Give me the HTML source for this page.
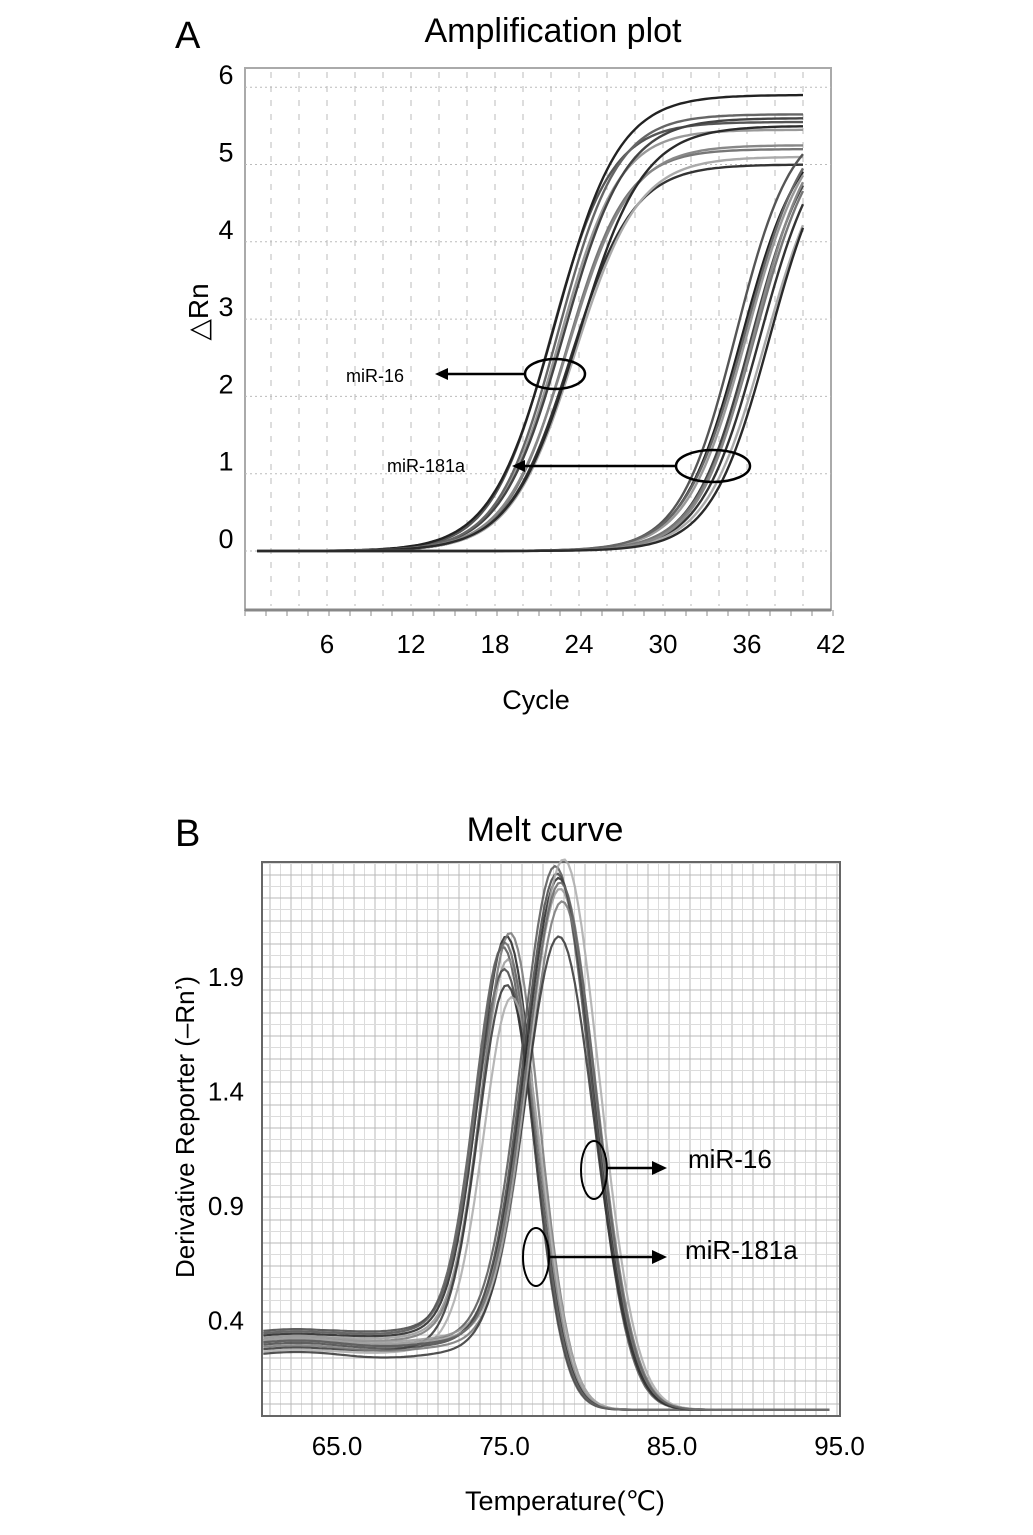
<!DOCTYPE html>
<html><head><meta charset="utf-8"><style>
body{margin:0;background:#fff;}
svg{display:block;font-family:"Liberation Sans",Arial,sans-serif;}
</style></head><body>
<svg id="fig" width="1033" height="1535" viewBox="0 0 1033 1535">
<rect width="1033" height="1535" fill="#fff"/>
<g id="pa"></g>
<g id="pb"></g>
</svg>
<script>
// ---- Panel A data ----
const cycleTicks = [6, 12, 18, 24, 30, 36, 42];
const rnTicks = [0, 1, 2, 3, 4, 5, 6];
// miR-16 curves: midpoint cycle, plateau, steepness
const mir16Mid = [22.0, 22.3, 22.6, 22.9, 23.1, 23.4, 23.7, 22.5, 23.2, 23.9];
const mir16Plateau = [5.55, 5.9, 5.45, 5.6, 5.2, 5.0, 5.1, 5.65, 5.25, 5.5];
const mir16Slope = [0.47, 0.44, 0.47, 0.45, 0.47, 0.45, 0.44, 0.47, 0.45, 0.43];
// miR-181a curves
const mir181Mid = [35.2, 35.6, 36.0, 36.3, 36.6, 36.9, 37.3, 35.9, 36.5, 37.6];
const mir181Plateau = [5.6, 5.5, 5.6, 5.5, 5.6, 5.5, 5.4, 5.7, 5.6, 5.5];
const mir181Slope = [0.5, 0.48, 0.47, 0.49, 0.47, 0.48, 0.47, 0.46, 0.5, 0.48];
const curveShade = ['#555','#222','#999','#444','#777','#333','#aaa','#666','#888','#2a2a2a'];

// ---- Panel B data ----
const tempTicks = [65.0, 75.0, 85.0, 95.0];
const derivTicks = [0.4, 0.9, 1.4, 1.9];
const melt181Tm = [75.1, 75.3, 75.4, 75.2, 75.5, 75.3, 75.6, 75.2];
const melt181Peak = [1.95, 2.0, 1.9, 1.85, 2.02, 1.8, 1.75, 1.97];
const melt181Base = [0.33, 0.32, 0.31, 0.34, 0.3, 0.26, 0.25, 0.33];
const melt16Tm = [78.2, 78.4, 78.5, 78.3, 78.6, 78.4, 78.7, 78.5];
const melt16Peak = [2.35, 2.3, 2.25, 2.32, 2.2, 2.05, 2.38, 2.28];
const melt16Base = [0.3, 0.29, 0.31, 0.28, 0.27, 0.24, 0.3, 0.29];

const NS = 'http://www.w3.org/2000/svg';
function mk(parent, tag, attrs, text){const e=document.createElementNS(NS,tag);for(const k in attrs)e.setAttribute(k,attrs[k]);if(text!==undefined)e.textContent=text;parent.appendChild(e);return e;}

// ---- Panel A ----
(function(){
const g=document.getElementById('pa');
const xA=c=>243+14*c, yA=v=>551-77.3*v;
const L=245,R=831,T=68,B=610;
let t;
t=mk(g,'text',{x:175,y:48,'font-size':38});t.textContent='A';


t=mk(g,'text',{x:553,y:42,'font-size':34,'text-anchor':'middle'},'Amplification plot');


const box=mk(g,'rect',{x:L,y:T,width:R-L,height:B-T,fill:'#fff',stroke:'#aaa','stroke-width':2});


for(let c=2;c<42;c+=2){const l=mk(g,'line',{x1:xA(c),x2:xA(c),y1:T+4,y2:B-4,stroke:'#bbb','stroke-dasharray':'6 8'});

}
for(let v=0;v<=6;v++){const l=mk(g,'line',{x1:L,x2:R,y1:yA(v),y2:yA(v),stroke:'#bbb','stroke-dasharray':'2 3'});

}
mk(g,'line',{x1:L,x2:R,y1:B,y2:B,stroke:'#888','stroke-width':3});
for(let c=0;c<=42;c+=1.5){mk(g,'line',{x1:xA(c)+2,x2:xA(c)+2,y1:B,y2:B+6,stroke:'#888'});}
cycleTicks.forEach(c=>{const tx=mk(g,'text',{x:xA(c),y:653,'font-size':26,'text-anchor':'middle'},String(c));

});
rnTicks.forEach(v=>{const tx=mk(g,'text',{x:226,y:yA(v)-3,'font-size':27,'text-anchor':'middle'},String(v));

});
t=mk(g,'text',{x:536,y:709,'font-size':27,'text-anchor':'middle'},'Cycle');


t=mk(g,'text',{transform:'translate(208,312) rotate(-90)','font-size':28,'text-anchor':'middle'},'\u25B3Rn');


function drawSet(mids,plats,slopes,name){
 mids.forEach((m,i)=>{let d='';for(let c=1;c<=40;c+=0.25){const v=plats[i]/(1+Math.exp(-slopes[i]*(c-m)));d+=(d?'L':'M')+xA(c).toFixed(1)+','+yA(v).toFixed(1);}
 const p=mk(g,'path',{d:d,fill:'none',stroke:curveShade[i%curveShade.length],'stroke-width':2.4});
 
 });
}
drawSet(mir16Mid,mir16Plateau,mir16Slope,'mir16-amplification-curve');
drawSet(mir181Mid,mir181Plateau,mir181Slope,'mir181a-amplification-curve');
mk(g,'ellipse',{cx:555,cy:374,rx:30,ry:15,fill:'none',stroke:'#000','stroke-width':2.5});
mk(g,'line',{x1:525,x2:445,y1:374,y2:374,stroke:'#000','stroke-width':2.5});
mk(g,'polygon',{points:'435,374 448,368 448,380',fill:'#000'});
t=mk(g,'text',{x:346,y:382,'font-size':18},'miR-16');


mk(g,'ellipse',{cx:713,cy:466,rx:37,ry:16,fill:'none',stroke:'#000','stroke-width':2.5});
mk(g,'line',{x1:676,x2:522,y1:466,y2:466,stroke:'#000','stroke-width':2.5});
mk(g,'polygon',{points:'512,466 525,460 525,472',fill:'#000'});
t=mk(g,'text',{x:387,y:472,'font-size':18},'miR-181a');


})();

// ---- Panel B ----
(function(){
const g=document.getElementById('pb');
const xB=T=>337+16.75*(T-65), yB=v=>1412-229*v;
const L=262,R=840,T=862,B=1416;
let t;
t=mk(g,'text',{x:175,y:846,'font-size':38},'B');


t=mk(g,'text',{x:545,y:841,'font-size':34,'text-anchor':'middle'},'Melt curve');


const box=mk(g,'rect',{x:L,y:T,width:R-L,height:B-T,fill:'#fff'});


for(let x=L+8;x<R;x+=10.5){mk(g,'line',{x1:x,x2:x,y1:T,y2:B,stroke:(Math.round((x-L-8)/10.5)%2?'#dcdcdc':'#b8b8b8'),'stroke-width':1});}
for(let y=B-12;y>T;y-=11.5){mk(g,'line',{x1:L,x2:R,y1:y,y2:y,stroke:(Math.round((B-12-y)/11.5)%2?'#dcdcdc':'#b8b8b8'),'stroke-width':1});}
mk(g,'rect',{x:L,y:T,width:R-L,height:B-T,fill:'none',stroke:'#666','stroke-width':2});
function drawMelt(tms,peaks,bases,sig,name,shift){
 tms.forEach((m,i)=>{let d='';for(let Tt=60.6;Tt<=94.5;Tt+=0.2){
  const bump=0.04*Math.sin((Tt-60)*0.6);
  const base=bases[i]*(1+0.012*Math.max(0,Tt-64)*shift)+bump*0.3;
  const v=base/(1+Math.exp((Tt-(m+0.5))*1.5))+(peaks[i]-bases[i]*0.6)*Math.exp(-Math.pow(Tt-m,2)/(2*sig*sig))+0.01;
  d+=(d?'L':'M')+xB(Tt).toFixed(1)+','+yB(v).toFixed(1);}
 const p=mk(g,'path',{d:d,fill:'none',stroke:curveShade[i%curveShade.length],'stroke-width':2.2,'stroke-opacity':0.85});
 
 });
}
drawMelt(melt181Tm,melt181Peak,melt181Base,1.75,'mir181a-melt-curve',1);
drawMelt(melt16Tm,melt16Peak,melt16Base,2.1,'mir16-melt-curve',0);
tempTicks.forEach(v=>{const tx=mk(g,'text',{x:xB(v),y:1455,'font-size':26,'text-anchor':'middle'},v.toFixed(1));

});
derivTicks.forEach(v=>{const tx=mk(g,'text',{x:244,y:yB(v)+9,'font-size':26,'text-anchor':'end'},v.toFixed(1));

});
t=mk(g,'text',{x:565,y:1510,'font-size':27,'text-anchor':'middle'},'Temperature(\u2103)');


t=mk(g,'text',{transform:'translate(194,1127) rotate(-90)','font-size':26,'text-anchor':'middle'},'Derivative Reporter (\u2013Rn\u2019)');


mk(g,'ellipse',{cx:594,cy:1170,rx:13,ry:29,fill:'none',stroke:'#000','stroke-width':2});
mk(g,'line',{x1:607,x2:655,y1:1168,y2:1168,stroke:'#000','stroke-width':2.5});
mk(g,'polygon',{points:'667,1168 652,1161 652,1175',fill:'#000'});
t=mk(g,'text',{x:688,y:1168,'font-size':26},'miR-16');


mk(g,'ellipse',{cx:536,cy:1257,rx:13,ry:29,fill:'none',stroke:'#000','stroke-width':2});
mk(g,'line',{x1:549,x2:655,y1:1257,y2:1257,stroke:'#000','stroke-width':2.5});
mk(g,'polygon',{points:'667,1257 652,1250 652,1264',fill:'#000'});
t=mk(g,'text',{x:685,y:1259,'font-size':26},'miR-181a');


})();
</script>
</body></html>
